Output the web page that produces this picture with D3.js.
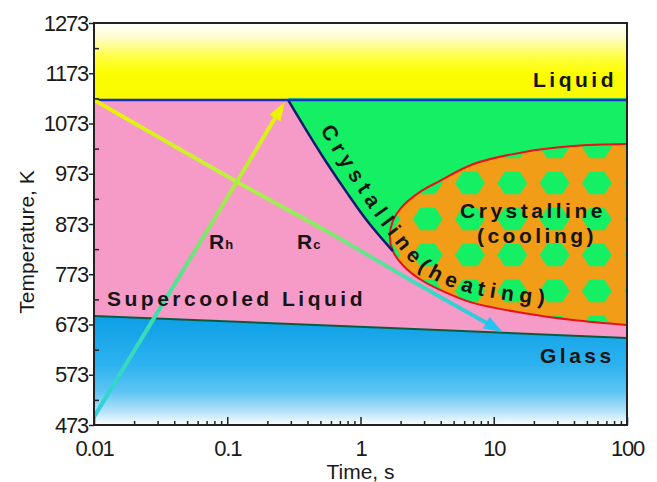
<!DOCTYPE html>
<html>
<head>
<meta charset="utf-8">
<script src="https://cdn.jsdelivr.net/npm/d3@7/dist/d3.min.js"></script>
<style>
  html, body { margin: 0; padding: 0; background: #fff; }
  svg { display: block; font-family: "Liberation Sans", Arial, sans-serif; }
</style>
</head>
<body>
<svg id="chart" width="657" height="482"></svg>
<script>
// ---- axis ranges and ticks ----
const timeDomain = [0.01, 100];            // s (log scale)
const tempDomain = [473, 1273];            // K
const timeTicks = [0.01, 0.1, 1, 10, 100];
const timeTickLabels = ["0.01", "0.1", "1", "10", "100"];
const tempTicks = [473, 573, 673, 773, 873, 973, 1073, 1173, 1273];
const tempMinorTicks = [523, 623, 723, 823, 923, 1023, 1123, 1223];

// ---- phase boundaries, [time s, temperature K] ----
const liquidusT = 1120;
const glassLine = [[0.01, 690], [1.66, 666], [100, 646]];
// nose of crystallisation on heating (liquidus -> meets the cooling C-curve)
const heatingNose = [[0.286, 1120], [0.404, 1054], [0.561, 994], [0.793, 935], [1.14, 877], [1.75, 819]];
// C-curve of crystallisation on cooling (upper branch, nose, lower branch)
const coolingNose = [
  [100, 1032], [39.4, 1028], [16.6, 1016], [6.98, 992], [3.95, 959], [2.8, 937],
  [2.08, 909], [1.75, 879], [1.66, 849], [1.75, 819],
  [2.08, 791], [2.8, 763], [3.95, 742], [6.98, 716], [16.6, 696], [39.4, 682], [100, 672]
];
const noseJunction = 9; // index in coolingNose where the heating nose joins

// ---- thermal paths ----
const coolingPath = [[0.01, 1120], [0.118, 957], [0.59, 855], [2.35, 762], [11.7, 658]]; // Rc
const heatingPath = [[0.01, 489], [0.118, 957], [0.27, 1116]];                        // Rh

// ---- scales ----
const svg = d3.select("#chart");
const plot = { left: 94, right: 627, top: 23, bottom: 425 };
const x = d3.scaleLog().domain(timeDomain).range([plot.left, plot.right]);
const y = d3.scaleLinear().domain(tempDomain).range([plot.bottom, plot.top]);

const curveLine = d3.line().x(d => x(d[0])).y(d => y(d[1])).curve(d3.curveCatmullRom.alpha(0.5));
const straightLine = d3.line().x(d => x(d[0])).y(d => y(d[1]));

const COLORS = {
  pink: "#f69ac7",
  green: "#14ef64",
  orange: "#f29d17",
  liquidus: "#1a2ccc",
  nose: "#121a6e",
  cNose: "#e6121c",
  glassLine: "#0b5a40",
  text: "#151515",
  axis: "#222"
};

// ---- defs ----
const defs = svg.append("defs");
defs.append("clipPath").attr("id", "plotClip")
  .append("rect")
  .attr("x", plot.left).attr("y", plot.top)
  .attr("width", plot.right - plot.left).attr("height", plot.bottom - plot.top);

const liquidGrad = defs.append("linearGradient").attr("id", "liquidGrad")
  .attr("gradientUnits", "userSpaceOnUse")
  .attr("x1", 0).attr("x2", 0).attr("y1", plot.top).attr("y2", y(liquidusT));
[[0, "#ffffff"], [0.18, "#fffbd0"], [0.45, "#ffff40"], [0.65, "#fdfd00"], [1, "#f8f800"]]
  .forEach(([o, c]) => liquidGrad.append("stop").attr("offset", o).attr("stop-color", c));

const glassGrad = defs.append("linearGradient").attr("id", "glassGrad")
  .attr("gradientUnits", "userSpaceOnUse")
  .attr("x1", 0).attr("x2", 0).attr("y1", y(690)).attr("y2", plot.bottom);
[[0, "#0c9fe6"], [0.45, "#2db2ef"], [0.7, "#5fc5f3"], [0.88, "#b6e3f8"], [1, "#ffffff"]]
  .forEach(([o, c]) => glassGrad.append("stop").attr("offset", o).attr("stop-color", c));

// hexagonal texture inside the cooling C-curve
const hexW = 42.3, hexH = 36, hexR = 15;
const hexPat = defs.append("pattern").attr("id", "hexPat")
  .attr("patternUnits", "userSpaceOnUse")
  .attr("width", hexW).attr("height", hexH)
  .attr("x", 470 - hexW / 2).attr("y", 183 - hexH / 2);
hexPat.append("rect").attr("width", hexW).attr("height", hexH).attr("fill", COLORS.orange);
const hexPts = d3.range(6).map(i => {
  const a = Math.PI / 3 * i;
  return [hexW / 2 + hexR * Math.cos(a), hexH / 2 + hexR * 0.86 * Math.sin(a)];
});
hexPat.append("polygon").attr("points", hexPts.map(p => p.join(",")).join(" ")).attr("fill", COLORS.green);

function pathGradient(id, pts, stops) {
  const g = defs.append("linearGradient").attr("id", id)
    .attr("gradientUnits", "userSpaceOnUse")
    .attr("x1", x(pts[0][0])).attr("y1", y(pts[0][1]))
    .attr("x2", x(pts[pts.length - 1][0])).attr("y2", y(pts[pts.length - 1][1]));
  stops.forEach(([o, c]) => g.append("stop").attr("offset", o).attr("stop-color", c));
}
pathGradient("rcGrad", coolingPath, [[0, "#eef200"], [0.3, "#c4f03c"], [0.55, "#86ec66"], [0.78, "#46dcb8"], [1, "#22c4f0"]]);
pathGradient("rhGrad", heatingPath, [[0, "#2ed2dc"], [0.35, "#3ee0a8"], [0.6, "#84e864"], [0.85, "#d0f020"], [1, "#eef200"]]);

// ---- regions ----
const regions = svg.append("g").attr("clip-path", "url(#plotClip)");

regions.append("rect")
  .attr("x", plot.left).attr("y", plot.top)
  .attr("width", plot.right - plot.left).attr("height", y(liquidusT) - plot.top)
  .attr("fill", "url(#liquidGrad)");

regions.append("path")
  .attr("d", d3.area().x(d => x(d[0])).y0(d => y(d[1])).y1(y(liquidusT))(glassLine))
  .attr("fill", COLORS.pink);

regions.append("path")
  .attr("d", d3.area().x(d => x(d[0])).y0(plot.bottom).y1(d => y(d[1]))(glassLine))
  .attr("fill", "url(#glassGrad)");

// crystalline on heating: right of the heating nose, above the C-curve
const upperBranch = coolingNose.slice(0, noseJunction + 1).reverse();
const greenD = curveLine(heatingNose) +
  curveLine(upperBranch).replace(/^M/, "L") +
  `L${x(100)},${y(liquidusT) - 2}L${x(heatingNose[0][0])},${y(liquidusT) - 2}Z`;
regions.append("path").attr("d", greenD).attr("fill", COLORS.green);

// crystalline on cooling
regions.append("path").attr("d", curveLine(coolingNose) + "Z").attr("fill", "url(#hexPat)");

// boundary lines
regions.append("path").attr("d", curveLine(coolingNose))
  .attr("fill", "none").attr("stroke", COLORS.cNose).attr("stroke-width", 2);
regions.append("path").attr("d", straightLine(glassLine))
  .attr("fill", "none").attr("stroke", COLORS.glassLine).attr("stroke-width", 2);
regions.append("path").attr("d", curveLine(heatingNose))
  .attr("fill", "none").attr("stroke", COLORS.nose).attr("stroke-width", 2.5);
regions.append("line")
  .attr("x1", plot.left).attr("x2", plot.right)
  .attr("y1", y(liquidusT)).attr("y2", y(liquidusT))
  .attr("stroke", COLORS.liquidus).attr("stroke-width", 2.5);

// ---- thermal path arrows ----
function arrow(pts, gradId, headColor, gen) {
  const p = regions.append("path").attr("d", gen(pts))
    .attr("fill", "none").attr("stroke", `url(#${gradId})`).attr("stroke-width", 4);
  const node = p.node();
  const L = node.getTotalLength();
  const head = 19, halfW = 6.5;
  p.attr("stroke-dasharray", `${L - head + 3} ${L + 10}`);
  const tip = node.getPointAtLength(L);
  const back = node.getPointAtLength(L - head);
  const dx = tip.x - back.x, dy = tip.y - back.y, len = Math.hypot(dx, dy);
  const ux = dx / len, uy = dy / len;
  const bx = tip.x - ux * head, by = tip.y - uy * head;
  regions.append("polygon")
    .attr("points", [[tip.x, tip.y], [bx - uy * halfW, by + ux * halfW], [bx + uy * halfW, by - ux * halfW]]
      .map(q => q.join(",")).join(" "))
    .attr("fill", headColor);
}
arrow(coolingPath, "rcGrad", "#22c4f0", curveLine);
arrow(heatingPath, "rhGrad", "#eef200", straightLine);

// ---- labels ----
const labels = svg.append("g").attr("fill", COLORS.text)
  .attr("font-weight", "bold").attr("font-size", 21).style("letter-spacing", "3.5px");

labels.append("text").attr("x", 533).attr("y", 87).text("Liquid");
labels.append("text").attr("x", 107).attr("y", 306).text("Supercooled Liquid");
labels.append("text").attr("x", 540).attr("y", 363).text("Glass");
labels.append("text").attr("x", 533).attr("y", 218).attr("text-anchor", "middle").text("Crystalline");
labels.append("text").attr("x", 537).attr("y", 243).attr("text-anchor", "middle").text("(cooling)");

// curved label following the heating nose and the C-curve
const heatLabelTrack = [[0.497, 1060], [0.667, 1004], [0.925, 945], [1.31, 885], [1.82, 835], [2.35, 799], [3.32, 766], [6.08, 738], [12.1, 722], [25.5, 712]];
const track = defs.append("path").attr("id", "heatTrack").attr("d", curveLine(heatLabelTrack));
const trackLen = track.node().getTotalLength();
labels.append("text").style("letter-spacing", "0px")
  .append("textPath").attr("href", "#heatTrack")
  .attr("textLength", trackLen - 4).attr("lengthAdjust", "spacing")
  .text("Crystalline(heating)");

const rh = labels.append("text").attr("x", 209).attr("y", 249).attr("font-size", 21).style("letter-spacing", "1px");
rh.append("tspan").text("R");
rh.append("tspan").attr("font-size", 13).text("h");
const rc = labels.append("text").attr("x", 297).attr("y", 249).attr("font-size", 21).style("letter-spacing", "1px");
rc.append("tspan").text("R");
rc.append("tspan").attr("font-size", 13).text("c");

// ---- axes ----
const axes = svg.append("g").attr("color", COLORS.axis);

const yAxis = axes.append("g").attr("transform", `translate(${plot.left},0)`)
  .call(d3.axisLeft(y).tickValues(tempTicks).tickSize(5).tickPadding(1).tickFormat(d3.format("d")));
const yMinor = axes.append("g").attr("transform", `translate(${plot.left},0)`)
  .call(d3.axisRight(y).tickValues(tempMinorTicks).tickSize(5).tickFormat(""));

const xMinorVals = [];
[0.01, 0.1, 1, 10].forEach(dec => d3.range(2, 10).forEach(k => xMinorVals.push(dec * k)));
const xMajor = axes.append("g").attr("transform", `translate(0,${plot.bottom})`)
  .call(d3.axisTop(x).tickValues(timeTicks).tickSize(8).tickFormat(""));
const xMinor = axes.append("g").attr("transform", `translate(0,${plot.bottom})`)
  .call(d3.axisTop(x).tickValues(xMinorVals).tickSize(4).tickFormat(""));
const xLabels = axes.append("g").attr("transform", `translate(0,${plot.bottom})`)
  .call(d3.axisBottom(x).tickValues(timeTicks).tickSize(0).tickPadding(15)
    .tickFormat((d, i) => timeTickLabels[i]));

[yAxis, yMinor, xMajor, xMinor, xLabels].forEach(g => g.select(".domain").remove());
axes.selectAll(".tick line").attr("stroke-width", 1.5);
axes.selectAll(".tick text")
  .attr("font-family", "'Liberation Sans', Arial, sans-serif")
  .attr("font-size", 22).attr("fill", "#1a1a1a").style("letter-spacing", "-1.2px");
xLabels.selectAll(".tick line").remove();

// frame
axes.append("rect")
  .attr("x", plot.left).attr("y", plot.top)
  .attr("width", plot.right - plot.left).attr("height", plot.bottom - plot.top)
  .attr("fill", "none").attr("stroke", COLORS.axis).attr("stroke-width", 2);

// axis titles
svg.append("text")
  .attr("x", (plot.left + plot.right) / 2).attr("y", 479)
  .attr("text-anchor", "middle").attr("font-size", 21).attr("fill", "#1a1a1a")
  .text("Time, s");
svg.append("text")
  .attr("transform", `translate(34,${(plot.top + plot.bottom) / 2 + 18}) rotate(-90)`)
  .attr("text-anchor", "middle").attr("font-size", 21).attr("fill", "#1a1a1a")
  .text("Temperature, K");
</script>
</body>
</html>
